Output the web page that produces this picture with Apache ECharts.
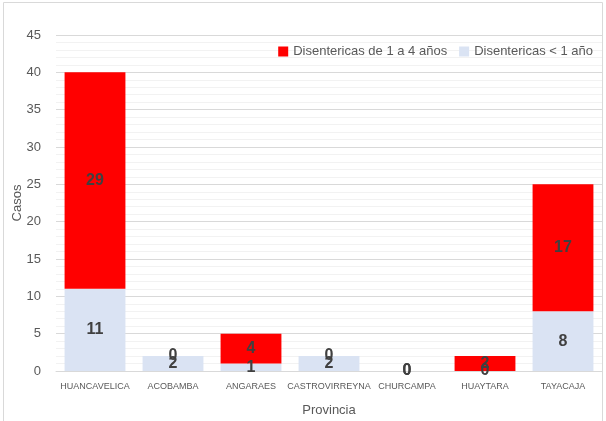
<!DOCTYPE html>
<html><head><meta charset="utf-8">
<script src="https://cdn.jsdelivr.net/npm/echarts@6/dist/echarts.min.js"></script>
<style>html,body{margin:0;padding:0;background:#fff}#c{width:606px;height:421px}</style>
</head><body><div id="c"></div>
<script>
const categories = ['HUANCAVELICA','ACOBAMBA','ANGARAES','CASTROVIRREYNA','CHURCAMPA','HUAYTARA','TAYACAJA'];
const menor1 = [11, 2, 1, 2, 0, 0, 8];
const de1a4 = [29, 0, 4, 0, 0, 2, 17];
const seriesNames = ['Disentericas de 1 a 4 años', 'Disentericas < 1 año'];
const font = 'Liberation Sans Narrow, Liberation Sans, sans-serif';
const chart = echarts.init(document.getElementById('c'));
const lbl = {show:true, position:'inside', color:'#404040', fontSize:16, fontWeight:'bold', fontFamily:font};
chart.setOption({
  animation:false,
  graphic:[{type:'rect', shape:{x:3.5,y:2.5,width:599,height:440}, style:{fill:'none', stroke:'#d9d9d9', lineWidth:1}, silent:true}],
  legend:{top:40, right:8, itemWidth:10, itemHeight:10, itemGap:12, icon:'rect',
    textStyle:{color:'#595959', fontSize:13, fontFamily:font},
    data:[seriesNames[0], seriesNames[1]]},
  grid:{left:56, right:4, top:35, bottom:50, containLabel:false, outerBoundsMode:'none'},
  xAxis:{type:'category', data:categories, name:'Provincia', nameLocation:'middle', nameGap:33,
    nameTextStyle:{color:'#595959', fontSize:13, fontFamily:font},
    axisLine:{lineStyle:{color:'#d9d9d9'}}, axisTick:{show:false},
    axisLabel:{color:'#595959', fontSize:9, fontFamily:font, margin:11, interval:0}},
  yAxis:{type:'value', min:0, max:45, interval:5, name:'Casos', nameLocation:'middle', nameGap:32, nameMoveOverlap:false,
    nameTextStyle:{color:'#595959', fontSize:13, fontFamily:font},
    axisLabel:{color:'#595959', fontSize:13, fontFamily:font, margin:15},
    axisLine:{show:false}, axisTick:{show:false},
    splitLine:{lineStyle:{color:'#d9d9d9'}},
    minorTick:{show:false, splitNumber:5},
    minorSplitLine:{show:true, lineStyle:{color:'#f2f2f2'}}},
  series:[
    {name:seriesNames[1], type:'bar', stack:'a', data:menor1, barCategoryGap:'22%', itemStyle:{color:'#dae3f3'}, label:lbl},
    {name:seriesNames[0], type:'bar', stack:'a', data:de1a4, itemStyle:{color:'#ff0000'}, label:lbl}
  ]
});
</script></body></html>
